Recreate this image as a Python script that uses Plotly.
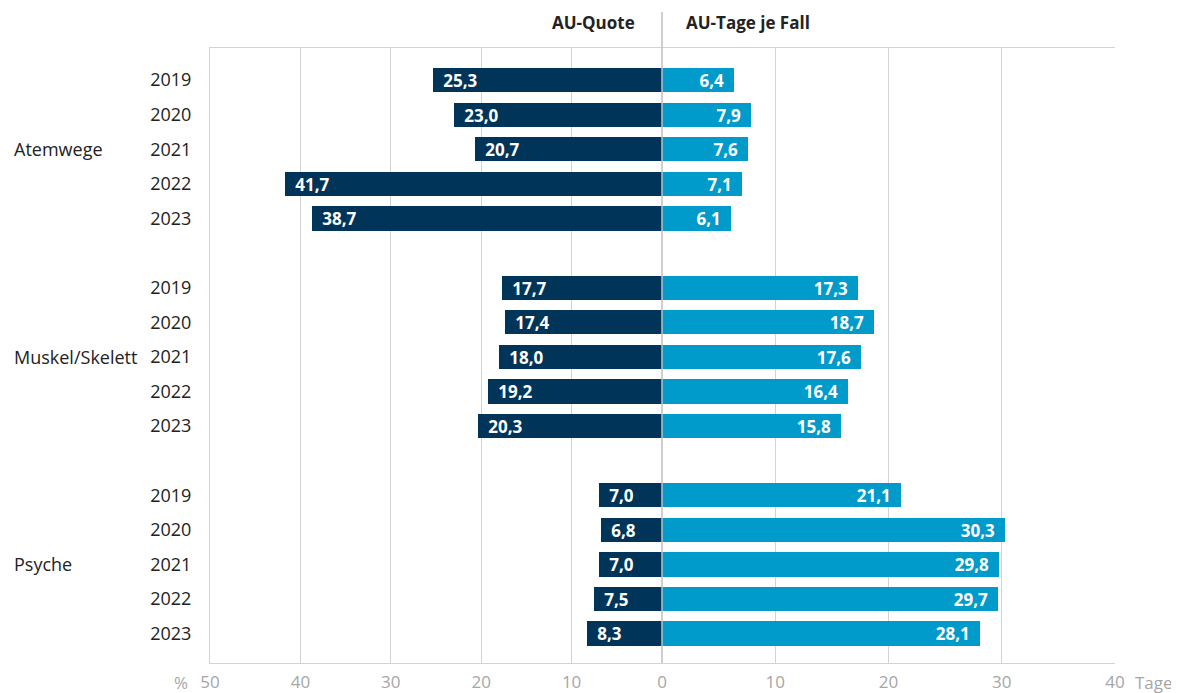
import plotly.graph_objects as go

groups = ["Atemwege", "Muskel/Skelett", "Psyche"]
years = ["2019", "2020", "2021", "2022", "2023"]
au_quote = [
    [25.3, 23.0, 20.7, 41.7, 38.7],
    [17.7, 17.4, 18.0, 19.2, 20.3],
    [7.0, 6.8, 7.0, 7.5, 8.3],
]
au_tage = [
    [6.4, 7.9, 7.6, 7.1, 6.1],
    [17.3, 18.7, 17.6, 16.4, 15.8],
    [21.1, 30.3, 29.8, 29.7, 28.1],
]
left_ticks = [50, 40, 30, 20, 10, 0]
right_ticks = [10, 20, 30, 40]

DARK = "#003459"
LIGHT = "#009BCB"
GRID = "#D3D3D3"
TICKC = "#A6A6A6"
FONT = "Open Sans"
PAD = "\u00a0\u2009"

ypos, ylab, xq, xt = [], [], [], []
for g in range(len(groups)):
    for j, yr in enumerate(years):
        ypos.append(g * 6 + j)
        ylab.append(yr)
        xq.append(au_quote[g][j])
        xt.append(au_tage[g][j])

def fmt(v):
    return f"{v:.1f}".replace(".", ",")

fig = go.Figure()
fig.add_trace(go.Bar(
    y=ypos, x=xq, orientation="h", xaxis="x", yaxis="y",
    marker=dict(color=DARK, line=dict(width=0)), width=0.7,
    text=[PAD + fmt(v) for v in xq], textposition="inside", insidetextanchor="end",
    constraintext="none",
    textfont=dict(color="white", size=17, family=FONT, weight="bold"),
    cliponaxis=False, showlegend=False,
))
fig.add_trace(go.Bar(
    y=ypos, x=xt, orientation="h", xaxis="x2", yaxis="y",
    marker=dict(color=LIGHT, line=dict(width=0)), width=0.7,
    text=[fmt(v) + PAD for v in xt], textposition="inside", insidetextanchor="end",
    constraintext="none",
    textfont=dict(color="white", size=17, family=FONT, weight="bold"),
    cliponaxis=False, showlegend=False,
))

split = 452 / 905

fig.update_layout(
    width=1171, height=685,
    margin=dict(l=202, r=64, t=40, b=30),
    plot_bgcolor="white", paper_bgcolor="white",
    barmode="overlay",
    uniformtext=dict(minsize=16, mode="show"),
    font=dict(family=FONT, size=16, color="#222222"),
    xaxis=dict(domain=[0, split], range=[50, 0], tickvals=left_ticks,
               ticktext=[str(t) for t in left_ticks], automargin=False,
               showgrid=True, gridcolor=GRID, gridwidth=1, zeroline=False,
               showline=True, linecolor=GRID, mirror=True,
               tickfont=dict(color=TICKC, size=17), ticks="",
               ticklabelstandoff=4),
    xaxis2=dict(domain=[split, 1], range=[0, 40], tickvals=right_ticks,
                ticktext=[str(t) for t in right_ticks], anchor="y", automargin=False,
                showgrid=True, gridcolor=GRID, gridwidth=1, zeroline=False,
                showline=True, linecolor=GRID, mirror=True,
                tickfont=dict(color=TICKC, size=17), ticks="",
                ticklabelstandoff=4),
    yaxis=dict(range=[16.85, -0.93], tickvals=ypos, ticktext=ylab, automargin=False,
               showgrid=False, zeroline=False, showline=True, linecolor=GRID,
               tickfont=dict(size=18, color="#222222"), ticks="",
               ticklabelstandoff=14),
    bargap=0,
)

# zero line extending above plot
fig.add_shape(type="line", xref="paper", yref="paper", x0=split, x1=split,
              y0=0, y1=1.0585, line=dict(color="#BFBFBF", width=1.5))

for g, name in enumerate(groups):
    fig.add_annotation(text=name, xref="paper", yref="y", x=-198 / 905, y=g * 6 + 2,
                       xanchor="left", showarrow=False,
                       font=dict(size=18, color="#222222"))

fig.add_annotation(text="<b>AU-Quote</b>", xref="paper", yref="paper",
                   x=split - 25 / 905, y=1.042, xanchor="right", yanchor="middle",
                   showarrow=False, font=dict(size=17, color="#222222"))
fig.add_annotation(text="<b>AU-Tage je Fall</b>", xref="paper", yref="paper",
                   x=split + 22 / 905, y=1.042, xanchor="left", yanchor="middle",
                   showarrow=False, font=dict(size=17, color="#222222"))
fig.add_annotation(text="%", xref="paper", yref="paper", x=-20 / 905, y=-19 / 615,
                   xanchor="right", yanchor="middle", showarrow=False,
                   font=dict(size=17, color=TICKC))
fig.add_annotation(text="Tage", xref="paper", yref="paper", x=1 + 18 / 905, y=-19 / 615,
                   xanchor="left", yanchor="middle", showarrow=False,
                   font=dict(size=17, color=TICKC))

fig.write_html("out.html")
